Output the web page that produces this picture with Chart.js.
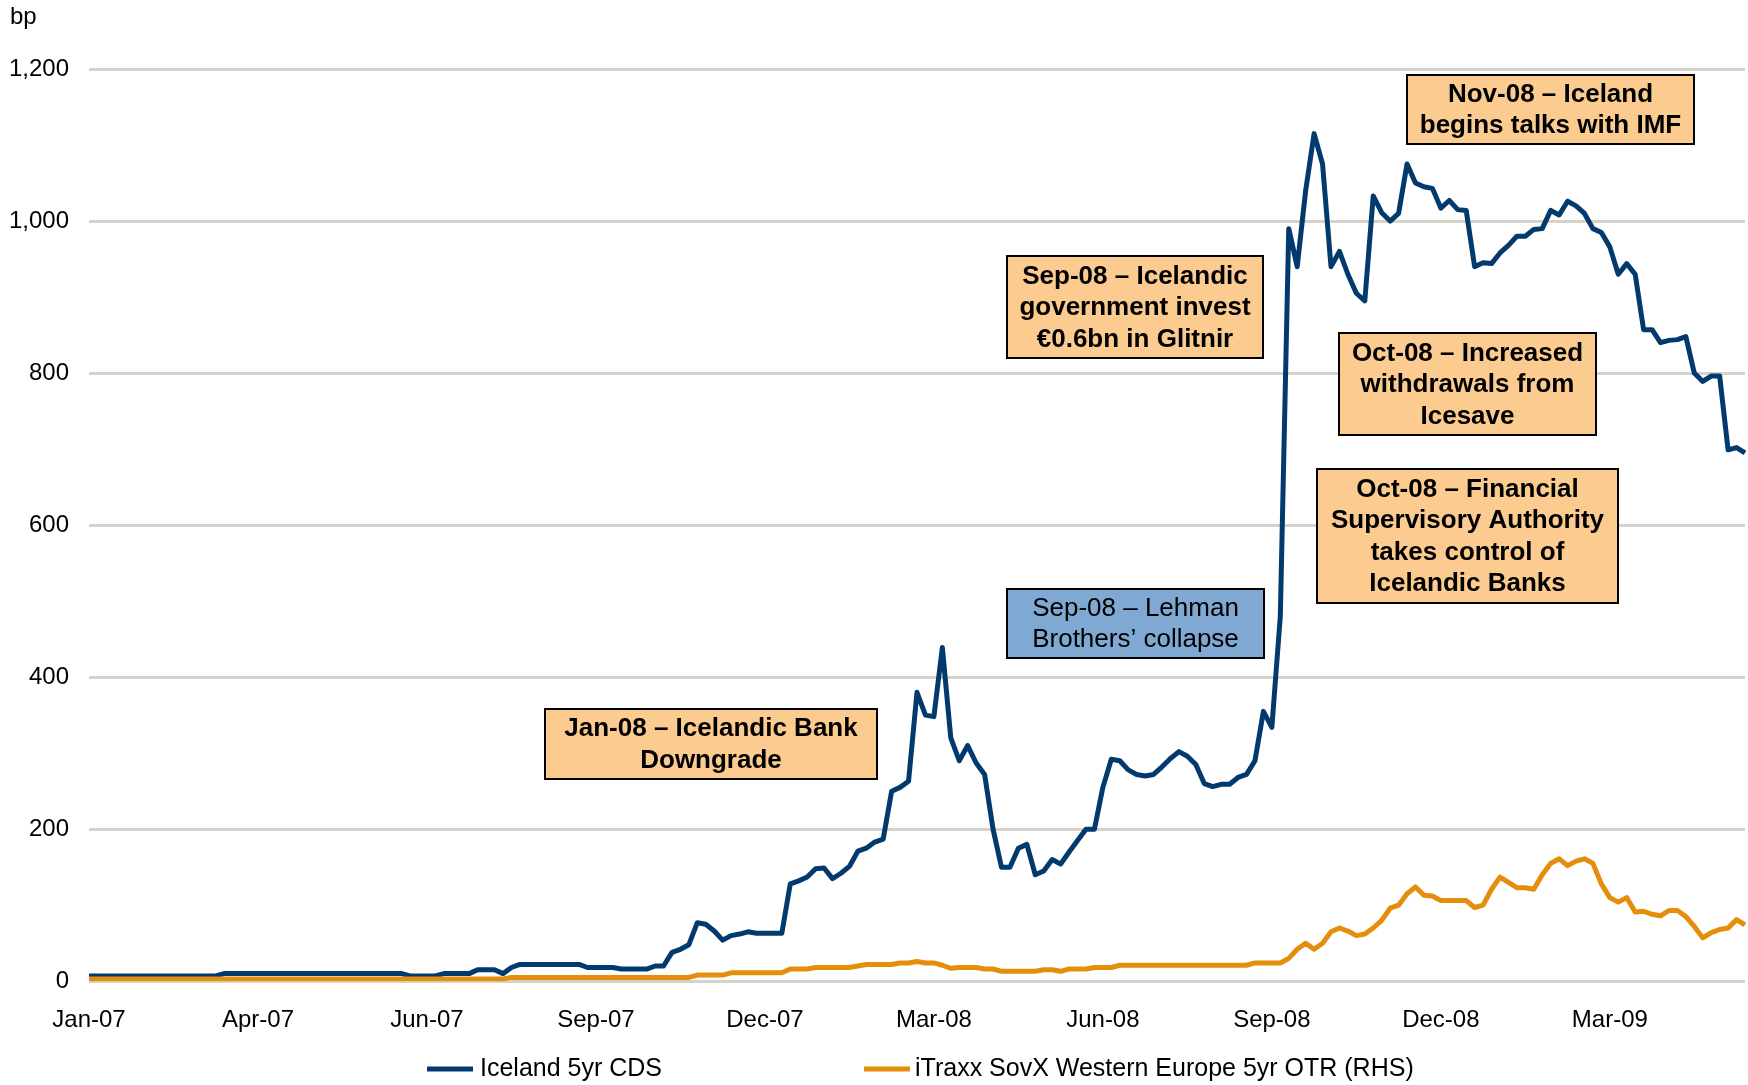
<!DOCTYPE html>
<html>
<head>
<meta charset="utf-8">
<script src="https://cdn.jsdelivr.net/npm/chart.js@4/dist/chart.umd.min.js"></script>
<style>
  html, body { margin: 0; padding: 0; background: #ffffff; }
  #wrap { width: 1748px; height: 1085px; position: relative; }
</style>
</head>
<body>
<div id="wrap"><canvas id="c"></canvas></div>
<script>
// ---- DATA ----
const tickLabels = ['Jan-07','Apr-07','Jun-07','Sep-07','Dec-07','Mar-08','Jun-08','Sep-08','Dec-08','Mar-09'];
const pointsPerTick = 20;

const icelandCDS = [
  7,7,7,7,7,7,7,7,7,7,7,7,7,7,7,7,10,10,10,10,
  10,10,10,10,10,10,10,10,10,10,10,10,10,10,10,10,10,10,7,7,
  7,7,10,10,10,10,15,15,15,10,18,22,22,22,22,22,22,22,22,18,
  18,18,18,16,16,16,16,20,20,38,42,48,77,75,66,54,60,62,65,63,
  63,63,63,128,132,137,148,149,135,142,151,171,175,183,187,250,255,263,380,350,
  348,439,320,290,310,287,272,200,150,150,175,180,140,145,160,154,170,185,200,200,
  255,292,290,278,272,270,272,282,293,302,296,285,260,256,259,259,268,272,290,355,
  334,480,990,940,1040,1115,1075,940,960,930,905,895,1033,1011,1000,1010,1075,1050,1045,1043,
  1017,1027,1015,1014,940,945,944,958,968,980,980,989,990,1014,1008,1026,1020,1010,990,985,
  966,930,944,930,857,857,840,843,844,848,800,789,796,796,699,702,695
];

const itraxxSovX = [
  3,3,3,3,3,3,3,3,3,3,3,3,3,3,3,3,3,3,3,3,
  3,3,3,3,3,3,3,3,3,3,3,3,3,3,3,3,3,3,3,3,
  3,3,3,3,3,3,3,3,3,3,5,5,5,5,5,5,5,5,5,5,
  5,5,5,5,5,5,5,5,5,5,5,5,8,8,8,8,11,11,11,11,
  11,11,11,16,16,16,18,18,18,18,18,20,22,22,22,22,24,24,26,24,
  24,21,17,18,18,18,16,16,13,13,13,13,13,15,15,13,16,16,16,18,
  18,18,21,21,21,21,21,21,21,21,21,21,21,21,21,21,21,21,24,24,
  24,24,30,42,50,42,50,65,70,66,60,62,70,80,96,100,115,124,113,112,
  106,106,106,106,97,100,121,137,130,123,123,121,140,155,161,152,158,161,155,128,
  110,104,110,91,92,88,86,93,93,85,72,57,64,68,70,81,74
];

const seriesNames = ['Iceland 5yr CDS', 'iTraxx SovX Western Europe 5yr OTR (RHS)'];
const yUnit = 'bp';
const yTicks = { min: 0, max: 1200, step: 200 };

const annotationTexts = [
  ['Jan-08 \u2013 Icelandic Bank', 'Downgrade'],
  ['Sep-08 \u2013 Icelandic', 'government invest', '\u20ac0.6bn in Glitnir'],
  ['Nov-08 \u2013 Iceland', 'begins talks with IMF'],
  ['Oct-08 \u2013 Increased', 'withdrawals from', 'Icesave'],
  ['Oct-08 \u2013 Financial', 'Supervisory Authority', 'takes control of', 'Icelandic Banks'],
  ['Sep-08 \u2013 Lehman', 'Brothers\u2019 collapse']
];

// category labels: one per data point, tick label every pointsPerTick points
const categories = icelandCDS.map((_, i) => (i % pointsPerTick === 0 ? (tickLabels[i / pointsPerTick] || '') : ''));

// ---- STYLE ----
const FONT = "'Liberation Sans', Arial, Helvetica, sans-serif";
const BLUE = '#023a6e';
const ORANGE = '#e58e0b';
const PEACH = '#fbcb8f';
const LBLUE = '#7fa9d2';

const boxStyles = [
  { x: 545,  y: 709, w: 332, h: 70,  fill: PEACH, bold: true },
  { x: 1007, y: 256, w: 256, h: 102, fill: PEACH, bold: true },
  { x: 1407, y: 75,  w: 287, h: 69,  fill: PEACH, bold: true },
  { x: 1339, y: 333, w: 257, h: 102, fill: PEACH, bold: true },
  { x: 1317, y: 469, w: 301, h: 134, fill: PEACH, bold: true },
  { x: 1007, y: 589, w: 257, h: 69,  fill: LBLUE, bold: false }
];

const overlayPlugin = {
  id: 'overlay',
  afterDraw(chart) {
    const ctx = chart.ctx;
    ctx.save();
    // unit label
    ctx.fillStyle = '#000';
    ctx.font = '24px ' + FONT;
    ctx.textAlign = 'left';
    ctx.textBaseline = 'middle';
    ctx.fillText(yUnit, 10, 17);

    // annotation boxes
    annotationTexts.forEach((lines, k) => {
      const b = boxStyles[k];
      ctx.fillStyle = b.fill;
      ctx.fillRect(b.x, b.y, b.w, b.h);
      ctx.lineWidth = 2;
      ctx.strokeStyle = '#000';
      ctx.strokeRect(b.x, b.y, b.w, b.h);
      ctx.fillStyle = '#000';
      ctx.font = (b.bold ? 'bold ' : '') + '26px ' + FONT;
      ctx.textAlign = 'center';
      ctx.textBaseline = 'middle';
      const lh = 31.5;
      const cy = b.y + b.h / 2;
      const cx = b.x + b.w / 2;
      lines.forEach((t, j) => {
        ctx.fillText(t, cx, cy + (j - (lines.length - 1) / 2) * lh + 1);
      });
    });

    // legend
    const legendPos = [{ sx: 427, tx: 480 }, { sx: 864, tx: 915 }];
    const ly = 1069;
    chart.data.datasets.forEach((ds, k) => {
      const p = legendPos[k];
      ctx.strokeStyle = ds.borderColor;
      ctx.lineWidth = 5;
      ctx.beginPath();
      ctx.moveTo(p.sx, ly);
      ctx.lineTo(p.sx + 46, ly);
      ctx.stroke();
      ctx.fillStyle = '#000';
      ctx.font = '25px ' + FONT;
      ctx.textAlign = 'left';
      ctx.textBaseline = 'middle';
      ctx.fillText(ds.label, p.tx, ly);
    });
    ctx.restore();
  }
};

Chart.defaults.font.family = FONT;
Chart.defaults.font.size = 24;
Chart.defaults.color = '#000';

new Chart(document.getElementById('c'), {
  type: 'line',
  data: {
    labels: categories,
    datasets: [
      {
        label: seriesNames[0],
        data: icelandCDS,
        borderColor: BLUE,
        backgroundColor: BLUE,
        borderWidth: 5,
        pointRadius: 0,
        tension: 0,
        borderJoinStyle: 'round',
        order: 1
      },
      {
        label: seriesNames[1],
        data: itraxxSovX,
        borderColor: ORANGE,
        backgroundColor: ORANGE,
        borderWidth: 5,
        pointRadius: 0,
        tension: 0,
        borderJoinStyle: 'round',
        order: 0
      }
    ]
  },
  options: {
    responsive: true,
    maintainAspectRatio: false,
    animation: false,
    layout: { padding: { top: 69, right: 3, bottom: 25, left: 0 } },
    plugins: {
      legend: { display: false },
      tooltip: { enabled: false }
    },
    scales: {
      x: {
        type: 'category',
        offset: false,
        grid: { display: false, drawTicks: false },
        border: { display: false },
        afterFit(scale) { scale.paddingRight = 0; scale.paddingLeft = 0; },
        ticks: {
          autoSkip: false,
          maxRotation: 0,
          minRotation: 0,
          padding: 25,
          font: { size: 24 },
          callback: function(v, i) { return categories[i]; }
        }
      },
      y: {
        min: yTicks.min,
        max: yTicks.max,
        grid: { color: '#d6d2ca', lineWidth: 3, drawTicks: false },
        border: { display: false },
        afterFit(scale) { scale.width = 89; },
        ticks: {
          stepSize: yTicks.step,
          padding: 20,
          font: { size: 24 },
          callback: v => v.toLocaleString('en-US')
        }
      }
    }
  },
  plugins: [overlayPlugin]
});
</script>
</body>
</html>
